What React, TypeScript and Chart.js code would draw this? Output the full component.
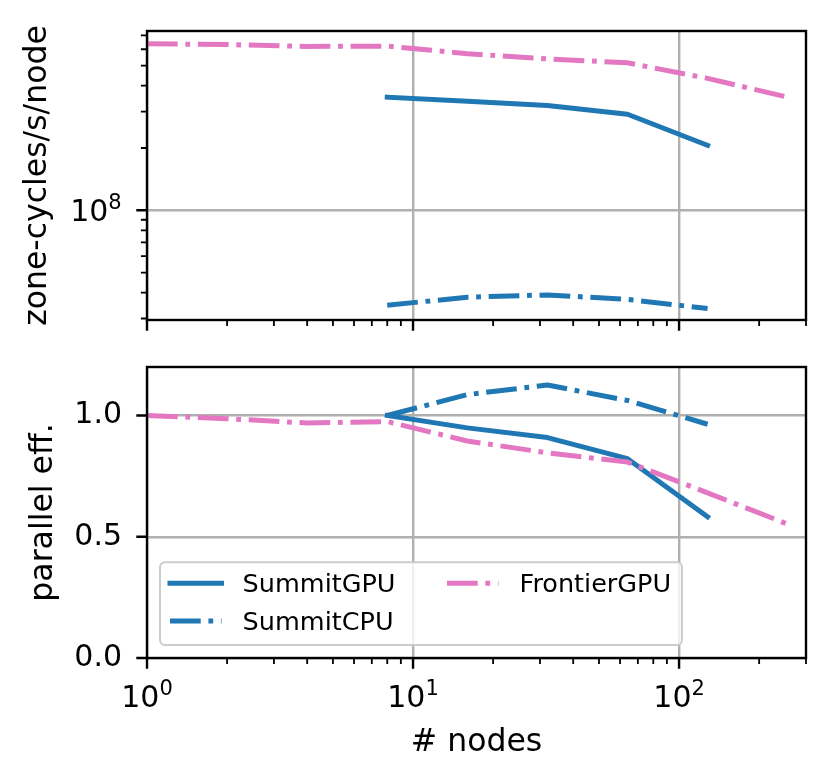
import { useEffect, useRef } from "react";
import { Chart, registerables } from "chart.js";

Chart.register(...registerables);

// node counts
const nodesFrontier = [1, 2, 4, 8, 16, 32, 64, 128, 256];
const nodesSummit = [8, 16, 32, 64, 128];

// zone-cycles/s/node
const perfSummitGPU = [3.52e8, 3.36e8, 3.21e8, 2.91e8, 2.06e8];
const perfSummitCPU = [3.48e7, 3.8e7, 3.9e7, 3.71e7, 3.35e7];
const perfFrontierGPU = [6.38e8, 6.32e8, 6.19e8, 6.21e8, 5.71e8, 5.39e8, 5.16e8, 4.34e8, 3.52e8];

// parallel efficiency
const effSummitGPU = [1.0, 0.949, 0.909, 0.822, 0.582];
const effSummitCPU = [1.0, 1.086, 1.126, 1.062, 0.964];
const effFrontierGPU = [1.0, 0.987, 0.969, 0.975, 0.895, 0.846, 0.808, 0.681, 0.552];

// ticks
const xMajorTicks = [1, 10, 100];
const xMajorExponents = ["0", "1", "2"];
const xMinorTicks = [2, 3, 4, 5, 6, 7, 8, 9, 20, 30, 40, 50, 60, 70, 80, 90, 200, 300];
const perfMajorTicks = [1e8];
const perfMajorExponents = ["8"];
const perfMinorTicks = [3e7, 4e7, 5e7, 6e7, 7e7, 8e7, 9e7, 2e8, 3e8, 4e8, 5e8, 6e8, 7e8];
const effTicks = [0, 0.5, 1.0];

const BLUE = "#1f77b4";
const PINK = "#e377c2";
const GRID = "#b0b0b0";
const DASH_DOT = [30.7, 7.7, 4.8, 7.7];
const FONT = "'DejaVu Sans', sans-serif";
const LINE_W = 5;

Chart.defaults.font.family = FONT;

function drawPower(ctx: CanvasRenderingContext2D, exp: string, x: number, y: number, align: "center" | "right") {
  ctx.font = `30px ${FONT}`;
  const wBase = ctx.measureText("10").width;
  ctx.font = `21px ${FONT}`;
  const wExp = ctx.measureText(exp).width;
  const x0 = align === "center" ? x - (wBase + wExp) / 2 : x - wBase - wExp;
  ctx.fillStyle = "#000";
  ctx.textAlign = "left";
  ctx.textBaseline = "alphabetic";
  ctx.font = `30px ${FONT}`;
  ctx.fillText("10", x0, y);
  ctx.font = `21px ${FONT}`;
  ctx.fillText(exp, x0 + wBase, y - 12);
}

function axesPlugin(yMajor: number[], yMinor: number[], xLabels: boolean, yExps: string[] | null) {
  return {
    id: "axesDecor",
    afterDraw(chart: any) {
      const { ctx, chartArea: a } = chart;
      const xs = chart.scales.x;
      const ys = chart.scales.y;
      ctx.save();
      ctx.strokeStyle = "#000";
      ctx.lineCap = "butt";

      ctx.lineWidth = 2.4;
      ctx.beginPath();
      xMajorTicks.forEach((v) => {
        const px = xs.getPixelForValue(v);
        ctx.moveTo(px, a.bottom);
        ctx.lineTo(px, a.bottom + 10.7);
      });
      yMajor.forEach((v) => {
        const py = ys.getPixelForValue(v);
        ctx.moveTo(a.left, py);
        ctx.lineTo(a.left - 10.7, py);
      });
      ctx.stroke();

      ctx.lineWidth = 1.8;
      ctx.beginPath();
      xMinorTicks.forEach((v) => {
        const px = xs.getPixelForValue(v);
        ctx.moveTo(px, a.bottom);
        ctx.lineTo(px, a.bottom + 6.1);
      });
      yMinor.forEach((v) => {
        const py = ys.getPixelForValue(v);
        ctx.moveTo(a.left, py);
        ctx.lineTo(a.left - 6.1, py);
      });
      ctx.stroke();

      ctx.lineWidth = 2.4;
      ctx.strokeRect(a.left, a.top, a.right - a.left, a.bottom - a.top);

      if (xLabels) {
        xMajorTicks.forEach((v, i) => {
          drawPower(ctx, xMajorExponents[i], xs.getPixelForValue(v), a.bottom + 49, "center");
        });
      }
      if (yExps) {
        yMajor.forEach((v, i) => {
          drawPower(ctx, yExps[i], a.left - 25.3, ys.getPixelForValue(v) + 11, "right");
        });
      }
      ctx.restore();
    },
  };
}

const legendPlugin = {
  id: "columnLegend",
  afterDraw(chart: any) {
    const ctx = chart.ctx as CanvasRenderingContext2D;
    const items = chart.data.datasets;
    const perCol = Math.ceil(items.length / 2);
    const colX = [170, 447];
    const rowY = [263.3, 301];
    ctx.save();
    ctx.beginPath();
    ctx.roundRect(160, 242.3, 522, 82.7, 5);
    ctx.fillStyle = "rgba(255,255,255,0.8)";
    ctx.fill();
    ctx.strokeStyle = "#cccccc";
    ctx.lineWidth = 2;
    ctx.stroke();
    items.forEach((ds: any, i: number) => {
      const x0 = colX[Math.floor(i / perCol)];
      const y = rowY[i % perCol];
      ctx.beginPath();
      ctx.strokeStyle = ds.borderColor;
      ctx.lineWidth = LINE_W;
      ctx.lineCap = ds.borderCapStyle || "butt";
      ctx.setLineDash(ds.borderDash || []);
      ctx.moveTo(x0, y);
      ctx.lineTo(x0 + 51.5, y);
      ctx.stroke();
      ctx.setLineDash([]);
      ctx.fillStyle = "#000";
      ctx.font = `25.5px ${FONT}`;
      ctx.textAlign = "left";
      ctx.textBaseline = "alphabetic";
      ctx.fillText(ds.label, x0 + 72.6, y + 9);
    });
    ctx.restore();
  },
};

function series(label: string, xs: number[], ys: number[], color: string, dashed: boolean, order: number) {
  return {
    label,
    data: xs.map((x, i) => ({ x, y: ys[i] })),
    borderColor: color,
    backgroundColor: color,
    borderWidth: LINE_W,
    borderDash: dashed ? DASH_DOT : [],
    borderCapStyle: dashed ? "butt" : "square",
    borderJoinStyle: "round",
    pointRadius: 0,
    fill: false,
    order,
  };
}

const gridOpts = { color: GRID, lineWidth: 2.4, drawTicks: false };

export default function App() {
  const topRef = useRef<HTMLCanvasElement>(null);
  const botRef = useRef<HTMLCanvasElement>(null);

  useEffect(() => {
    if (!topRef.current || !botRef.current) return;

    const top = new Chart(topRef.current, {
      type: "line",
      data: {
        datasets: [
          series("SummitGPU", nodesSummit, perfSummitGPU, BLUE, false, 3),
          series("SummitCPU", nodesSummit, perfSummitCPU, BLUE, true, 2),
          series("FrontierGPU", nodesFrontier, perfFrontierGPU, PINK, true, 1),
        ] as any,
      },
      options: {
        responsive: false,
        animation: false,
        layout: { padding: { top: 31, right: 23, left: 0, bottom: 0 } },
        plugins: { legend: { display: false }, tooltip: { enabled: false } },
        scales: {
          x: {
            type: "logarithmic",
            min: 1,
            max: 300,
            afterBuildTicks: (s: any) => {
              s.ticks = xMajorTicks.map((value) => ({ value }));
            },
            afterFit: (s: any) => {
              s.height = 15;
            },
            ticks: { display: false },
            grid: gridOpts,
            border: { display: false },
          },
          y: {
            type: "logarithmic",
            min: 2.95e7,
            max: 7.35e8,
            afterBuildTicks: (s: any) => {
              s.ticks = perfMajorTicks.map((value) => ({ value }));
            },
            afterFit: (s: any) => {
              s.width = 147;
            },
            ticks: { display: false },
            grid: gridOpts,
            border: { display: false },
            title: {
              display: true,
              text: "zone-cycles/s/node",
              color: "#000",
              font: { size: 31.5, family: FONT },
              padding: { top: 18.7, bottom: 0 },
            },
          },
        },
      },
      plugins: [axesPlugin(perfMajorTicks, perfMinorTicks, false, perfMajorExponents)],
    });

    const bottom = new Chart(botRef.current, {
      type: "line",
      data: {
        datasets: [
          series("SummitGPU", nodesSummit, effSummitGPU, BLUE, false, 3),
          series("SummitCPU", nodesSummit, effSummitCPU, BLUE, true, 2),
          series("FrontierGPU", nodesFrontier, effFrontierGPU, PINK, true, 1),
        ] as any,
      },
      options: {
        responsive: false,
        animation: false,
        layout: { padding: { top: 47, right: 23, left: 0, bottom: 0 } },
        plugins: { legend: { display: false }, tooltip: { enabled: false } },
        scales: {
          x: {
            type: "logarithmic",
            min: 1,
            max: 300,
            afterBuildTicks: (s: any) => {
              s.ticks = xMajorTicks.map((value) => ({ value }));
            },
            afterFit: (s: any) => {
              s.height = 125;
            },
            ticks: { display: false },
            grid: gridOpts,
            border: { display: false },
            title: {
              display: true,
              text: "# nodes",
              color: "#000",
              font: { size: 31.5, family: FONT },
              padding: { top: 0, bottom: 20.8 },
            },
          },
          y: {
            type: "linear",
            min: 0,
            max: 1.2,
            afterBuildTicks: (s: any) => {
              s.ticks = effTicks.map((value) => ({ value }));
            },
            afterFit: (s: any) => {
              s.width = 147;
            },
            ticks: {
              color: "#000",
              padding: 25,
              font: { size: 30, family: FONT },
              callback: (v: any) => Number(v).toFixed(1),
            },
            grid: gridOpts,
            border: { display: false },
            title: {
              display: true,
              text: "parallel eff.",
              color: "#000",
              font: { size: 31.5, family: FONT },
              padding: { top: 25.2, bottom: 0 },
            },
          },
        },
      },
      plugins: [axesPlugin(effTicks, [], true, null), legendPlugin],
    });

    return () => {
      top.destroy();
      bottom.destroy();
    };
  }, []);

  return (
    <div style={{ position: "fixed", left: 0, top: 0, width: 829, height: 783, background: "#fff" }}>
      <canvas ref={topRef} width={829} height={335} style={{ position: "absolute", left: 0, top: 0 }} />
      <canvas ref={botRef} width={829} height={463} style={{ position: "absolute", left: 0, top: 320 }} />
    </div>
  );
}
